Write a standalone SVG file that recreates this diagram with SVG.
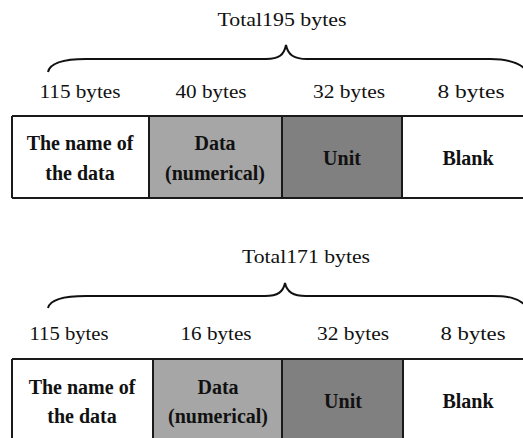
<svg xmlns="http://www.w3.org/2000/svg" width="523" height="438" viewBox="0 0 523 438">
  <style>
    .lbl { font-family: "Liberation Serif", "Times New Roman", serif; font-size: 19px; fill: #111; text-anchor: middle; }
    .ttl { font-family: "Liberation Serif", "Times New Roman", serif; font-size: 18px; fill: #111; text-anchor: middle; }
    .cell { font-family: "Liberation Serif", "Times New Roman", serif; font-size: 20px; font-weight: bold; fill: #111; text-anchor: middle; }
    .edge { stroke: #1a1a1a; stroke-width: 2; fill: none; }
    .brace { stroke: #111; stroke-width: 2; fill: none; }
    .white { fill: #ffffff; }
    .light { fill: #a6a6a6; }
    .dark { fill: #808080; }
  </style>

  <rect width="523" height="438" fill="#ffffff"/>

  <!-- upper record: 195 bytes -->
  <g id="record-195">
    <text class="ttl" x="282" y="26" textLength="129" lengthAdjust="spacingAndGlyphs">Total195 bytes</text>
    <text class="lbl" x="80" y="98" textLength="81" lengthAdjust="spacingAndGlyphs">115 bytes</text>
    <text class="lbl" x="211" y="98" textLength="71" lengthAdjust="spacingAndGlyphs">40 bytes</text>
    <text class="lbl" x="349" y="98" textLength="72" lengthAdjust="spacingAndGlyphs">32 bytes</text>
    <text class="lbl" x="471" y="98" textLength="67" lengthAdjust="spacingAndGlyphs">8 bytes</text>

    <g id="r1-name">
      <rect class="white" x="12" y="116" width="137" height="82"/>
      <text class="cell" x="80" y="150">The name of</text>
      <text class="cell" x="80" y="180">the data</text>
    </g>
    <g id="r1-data">
      <rect class="light" x="149" y="116" width="133" height="82"/>
      <text class="cell" x="215" y="150">Data</text>
      <text class="cell" x="215" y="180">(numerical)</text>
    </g>
    <g id="r1-unit">
      <rect class="dark" x="282" y="116" width="120" height="82"/>
      <text class="cell" x="342" y="165">Unit</text>
    </g>
    <g id="r1-blank">
      <rect class="white" x="402" y="116" width="125" height="82"/>
      <text class="cell" x="468" y="165">Blank</text>
    </g>
    <path class="edge" d="M12,116 H524 M12,198 H524 M12,116 V198 M149,116 V198 M282,116 V198 M402,116 V198"/>
  </g>

  <!-- lower record: 171 bytes -->
  <g id="record-171">
    <text class="ttl" x="306" y="263" textLength="128" lengthAdjust="spacingAndGlyphs">Total171 bytes</text>
    <text class="lbl" x="69" y="340" textLength="79" lengthAdjust="spacingAndGlyphs">115 bytes</text>
    <text class="lbl" x="216" y="340" textLength="71" lengthAdjust="spacingAndGlyphs">16 bytes</text>
    <text class="lbl" x="353" y="340" textLength="72" lengthAdjust="spacingAndGlyphs">32 bytes</text>
    <text class="lbl" x="473" y="340" textLength="65" lengthAdjust="spacingAndGlyphs">8 bytes</text>

    <g id="r2-name">
      <rect class="white" x="12" y="359" width="141" height="80"/>
      <text class="cell" x="82" y="394">The name of</text>
      <text class="cell" x="82" y="423">the data</text>
    </g>
    <g id="r2-data">
      <rect class="light" x="153" y="359" width="129" height="80"/>
      <text class="cell" x="218" y="394">Data</text>
      <text class="cell" x="218" y="423">(numerical)</text>
    </g>
    <g id="r2-unit">
      <rect class="dark" x="282" y="359" width="121" height="80"/>
      <text class="cell" x="343" y="408">Unit</text>
    </g>
    <g id="r2-blank">
      <rect class="white" x="403" y="359" width="124" height="80"/>
      <text class="cell" x="468" y="408">Blank</text>
    </g>
    <path class="edge" d="M12,359 H524 M12,359 V440 M153,359 V440 M282,359 V440 M403,359 V440"/>
  </g>

  <!-- curly braces spanning each record -->
  <g id="connectors">
    <path class="brace" d="M48,72 C50,63 64,59 86,59 L266,59 C279,59 284,55 286,45 C288,55 294,59 307,59 L490,59 C506,59 518,62 525,69"/>
    <path class="brace" d="M48,308 C50,300 64,296 86,296 L265,296 C278,296 283,292 285,283 C287,292 293,296 306,296 L492,296 C508,296 518,298 525,305"/>
  </g>
</svg>
